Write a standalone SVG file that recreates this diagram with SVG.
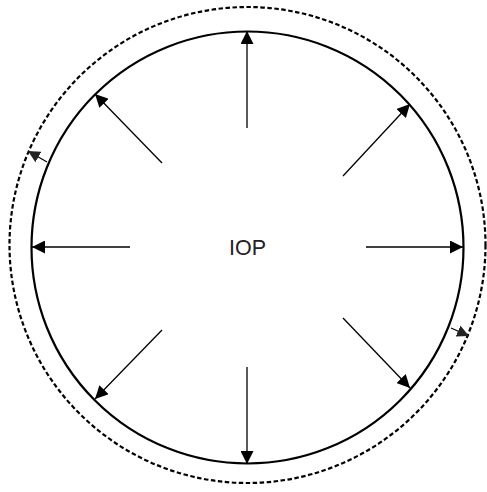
<svg xmlns="http://www.w3.org/2000/svg" width="487" height="492" viewBox="0 0 487 492">
<style>
.c{fill:none;stroke:#000}
.a{stroke:#000;stroke-width:1.3;fill:none;marker-end:url(#h)}
.s{stroke:#000;stroke-width:1.2;fill:none;marker-end:url(#hs)}
.t{font-family:"Liberation Sans",Arial,sans-serif;font-size:21.5px;fill:#222}
</style>
<defs>
<marker id="h" markerWidth="13" markerHeight="13" viewBox="0 0 12 12" refX="12" refY="6" orient="auto" markerUnits="userSpaceOnUse">
<path d="M0,0 L12,6 L0,12 Z" fill="#000"/>
</marker>
<marker id="hs" markerWidth="12" markerHeight="12" viewBox="0 0 12 12" refX="12" refY="6" orient="auto" markerUnits="userSpaceOnUse">
<path d="M0,0 L12,6 L0,12 Z" fill="#222"/>
</marker>
</defs>
<g id="outer"><circle class="c" cx="247.5" cy="245" r="238" stroke-width="2.2" stroke-dasharray="4.5,2.5"/></g>
<g id="inner"><circle class="c" cx="247.5" cy="247.5" r="216" stroke-width="2.2"/></g>
<g id="label"><text class="t" x="247.5" y="255" text-anchor="middle">IOP</text></g>
<g id="connectors">
<line class="a" x1="247" y1="128" x2="247" y2="31"/>
<line class="a" x1="247" y1="367" x2="247" y2="464"/>
<line class="a" x1="130" y1="247" x2="32" y2="247"/>
<line class="a" x1="366" y1="247" x2="463" y2="247"/>
<line class="a" x1="162" y1="163" x2="95" y2="94"/>
<line class="a" x1="343" y1="176" x2="410" y2="104"/>
<line class="a" x1="162" y1="330" x2="95" y2="399"/>
<line class="a" x1="343" y1="318" x2="410" y2="388"/>
<line class="s" x1="47" y1="162" x2="28" y2="151"/>
<line class="s" x1="451" y1="328" x2="469" y2="336"/>
</g>
</svg>
